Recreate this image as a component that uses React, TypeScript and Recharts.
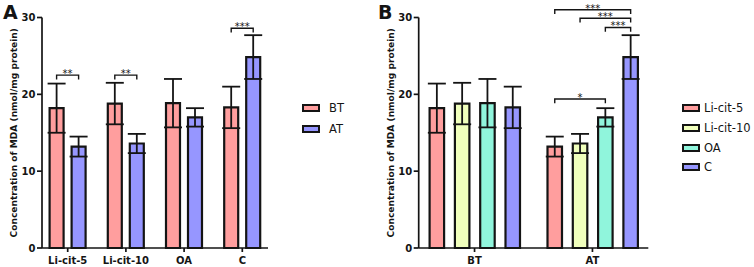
import React from 'react';
import { BarChart, Bar, XAxis, YAxis, ErrorBar, Rectangle, Label } from 'recharts';

// ---------- data ----------
const categories = ['Li-cit-5', 'Li-cit-10', 'OA', 'C'];
const timepoints = ['BT', 'AT'];
const btMeans = [18.2, 18.8, 18.85, 18.3];
const btErrors = [3.2, 2.7, 3.15, 2.7];
const atMeans = [13.2, 13.6, 17.0, 24.85];
const atErrors = [1.3, 1.25, 1.2, 2.85];
const yTicks = [0, 10, 20, 30];
const yLabel = 'Concentration of MDA (nmol/mg protein)';

// significance brackets (level in data units)
const leftBrackets = [
  { group: 'Li-cit-5', level: 22.5, stars: '**' },
  { group: 'Li-cit-10', level: 22.5, stars: '**' },
  { group: 'C', level: 28.6, stars: '***' },
];
const rightBrackets = [
  { from: 'Li-cit-5', to: 'C', level: 31.0, stars: '***' },
  { from: 'Li-cit-10', to: 'C', level: 29.9, stars: '***' },
  { from: 'OA', to: 'C', level: 28.7, stars: '***' },
  { from: 'Li-cit-5', to: 'OA', level: 19.4, stars: '*' },
];

// ---------- styles ----------
const timeColors: Record<string, string> = { BT: '#FF9E9E', AT: '#9696FF' };
const groupColors: Record<string, string> = {
  'Li-cit-5': '#FF9E9E',
  'Li-cit-10': '#F0FFBC',
  OA: '#90F5DC',
  C: '#9696FF',
};
const INK = '#141414';
const FONT = '"DejaVu Sans", "Liberation Sans", Arial, sans-serif';
const tickStyle = { fill: INK, fontSize: 10, fontWeight: 'bold' as const, fontFamily: FONT };
const axisStroke = { stroke: INK, strokeWidth: 1.7 };
const DROP = 4.3;
const BAR_STROKE = 2.2;

const leftData = categories.map((c, i) => ({
  name: c,
  BT: btMeans[i],
  AT: atMeans[i],
  BTerr: btErrors[i],
  ATerr: atErrors[i],
}));

const rightData = timepoints.map((t) => {
  const row: Record<string, any> = { name: t };
  categories.forEach((c, i) => {
    row[c] = t === 'BT' ? btMeans[i] : atMeans[i];
    row[c + '_err'] = t === 'BT' ? btErrors[i] : atErrors[i];
  });
  return row;
});

const renderYLabel = (props: any) => {
  const vb = props.viewBox ?? { x: 0, y: 17.5, width: 42, height: 230.5 };
  const cx = vb.x + 13.7;
  const cy = vb.y + vb.height / 2;
  return (
    <text
      x={cx}
      y={cy}
      transform={`rotate(-90 ${cx} ${cy})`}
      textAnchor="middle"
      dominantBaseline="central"
      fontSize={9.1}
      fontWeight="bold"
      fontFamily={FONT}
      fill={INK}
    >
      {yLabel}
    </text>
  );
};

function Bracket({ x1, x2, py, stars }: { x1: number; x2: number; py: number; stars: string }) {
  return (
    <g>
      <path
        d={`M${x1},${py + DROP}L${x1},${py}L${x2},${py}L${x2},${py + DROP}`}
        fill="none"
        stroke={INK}
        strokeWidth={1.4}
      />
      <text
        x={(x1 + x2) / 2}
        y={py + 1.8}
        textAnchor="middle"
        fontSize={10}
        fontFamily={FONT}
        fill={INK}
      >
        {stars}
      </text>
    </g>
  );
}

// ---------- left panel ----------
const L_BAR = 14;
const L_GAP = 8;

const leftAtShape = (props: any) => {
  const { x, y, width, height, payload } = props;
  const v = payload.AT;
  const base = y + height;
  const k = height / v;
  const cx = x + width / 2;
  const br = leftBrackets.filter((b) => b.group === payload.name);
  return (
    <g>
      <Rectangle x={x} y={y} width={width} height={height} fill={timeColors.AT} stroke={INK} strokeWidth={BAR_STROKE} />
      {br.map((b, i) => (
        <Bracket key={i} x1={cx - (L_BAR + L_GAP)} x2={cx} py={base - b.level * k} stars={b.stars} />
      ))}
    </g>
  );
};

function LeftChart() {
  return (
    <BarChart
      width={377}
      height={267}
      data={leftData}
      margin={{ top: 17.5, right: 109, bottom: 0, left: 0 }}
      barSize={L_BAR}
      barGap={L_GAP}
    >
      <XAxis
        dataKey="name"
        padding={{ left: -3.4, right: -3.4 }}
        height={19}
        tickSize={4}
        tickMargin={4.5}
        axisLine={axisStroke}
        tickLine={axisStroke}
        tick={tickStyle}
        interval={0}
      />
      <YAxis
        domain={[0, 30]}
        ticks={yTicks}
        width={42}
        tickSize={5}
        tickMargin={1.5}
        axisLine={axisStroke}
        tickLine={axisStroke}
        tick={tickStyle}
        interval={0}
      >
        <Label content={renderYLabel} />
      </YAxis>
      <Bar dataKey="BT" fill={timeColors.BT} stroke={INK} strokeWidth={BAR_STROKE} isAnimationActive={false}>
        <ErrorBar dataKey="BTerr" width={9} stroke={INK} strokeWidth={1.8} direction="y" />
      </Bar>
      <Bar dataKey="AT" fill={timeColors.AT} stroke={INK} strokeWidth={BAR_STROKE} isAnimationActive={false} shape={leftAtShape}>
        <ErrorBar dataKey="ATerr" width={9} stroke={INK} strokeWidth={1.8} direction="y" />
      </Bar>
    </BarChart>
  );
}

// ---------- right panel ----------
const R_BAR = 14.5;
const R_GAP = 10.8;

const rightCShape = (props: any) => {
  const { x, y, width, height, payload } = props;
  const v = payload.C;
  const base = y + height;
  const k = height / v;
  const cx = x + width / 2;
  const last = categories.length - 1;
  const centerOf = (c: string) => cx - (last - categories.indexOf(c)) * (R_BAR + R_GAP);
  return (
    <g>
      <Rectangle x={x} y={y} width={width} height={height} fill={groupColors.C} stroke={INK} strokeWidth={BAR_STROKE} />
      {payload.name === 'AT' &&
        rightBrackets.map((b, i) => (
          <Bracket key={i} x1={centerOf(b.from)} x2={centerOf(b.to)} py={base - b.level * k} stars={b.stars} />
        ))}
    </g>
  );
};

function RightChart() {
  return (
    <BarChart
      width={377}
      height={267}
      data={rightData}
      margin={{ top: 17.5, right: 105.7, bottom: 0, left: 0 }}
      barSize={R_BAR}
      barGap={R_GAP}
    >
      <XAxis
        dataKey="name"
        padding={{ left: -3.1, right: -3.1 }}
        height={19}
        tickSize={4}
        tickMargin={4.5}
        axisLine={axisStroke}
        tickLine={axisStroke}
        tick={tickStyle}
        interval={0}
      />
      <YAxis
        domain={[0, 30]}
        ticks={yTicks}
        width={41.7}
        tickSize={5}
        tickMargin={1.5}
        axisLine={axisStroke}
        tickLine={axisStroke}
        tick={tickStyle}
        interval={0}
      >
        <Label content={renderYLabel} />
      </YAxis>
      {categories.map((c) => (
        <Bar
          key={c}
          dataKey={c}
          fill={groupColors[c]}
          stroke={INK}
          strokeWidth={BAR_STROKE}
          isAnimationActive={false}
          shape={c === 'C' ? rightCShape : undefined}
        >
          <ErrorBar dataKey={c + '_err'} width={9} stroke={INK} strokeWidth={1.8} direction="y" />
        </Bar>
      ))}
    </BarChart>
  );
}

function LegendBox({ items, left, top, spacing, textGap }: { items: { label: string; color: string }[]; left: number; top: number; spacing: number; textGap: number }) {
  return (
    <div style={{ position: 'absolute', left, top }}>
      {items.map((it, i) => (
        <div
          key={it.label}
          style={{ position: 'absolute', left: 0, top: i * spacing, display: 'flex', alignItems: 'center', height: 8, whiteSpace: 'nowrap' }}
        >
          <div style={{ width: 14, height: 4, border: `2px solid ${INK}`, background: it.color }} />
          <span style={{ marginLeft: textGap, fontSize: 11.5, fontFamily: FONT, color: INK, lineHeight: '8px' }}>{it.label}</span>
        </div>
      ))}
    </div>
  );
}

export default function App() {
  return (
    <div style={{ position: 'absolute', left: 0, top: 0, width: 754, height: 267, background: '#fff', overflow: 'hidden' }}>
      <div style={{ position: 'absolute', left: 0, top: 0 }}>
        <LeftChart />
      </div>
      <div style={{ position: 'absolute', left: 377, top: 0 }}>
        <RightChart />
      </div>
      <LegendBox
        items={timepoints.map((t) => ({ label: t, color: timeColors[t] }))}
        left={302}
        top={104}
        spacing={20.7}
        textGap={9}
      />
      <LegendBox
        items={categories.map((c) => ({ label: c, color: groupColors[c] }))}
        left={682}
        top={104}
        spacing={19.8}
        textGap={4}
      />
      <div style={{ position: 'absolute', left: 3, top: 1, fontSize: 19, fontWeight: 'bold', fontFamily: FONT, color: INK, lineHeight: '22px' }}>A</div>
      <div style={{ position: 'absolute', left: 378, top: 1, fontSize: 19, fontWeight: 'bold', fontFamily: FONT, color: INK, lineHeight: '22px' }}>B</div>
    </div>
  );
}
